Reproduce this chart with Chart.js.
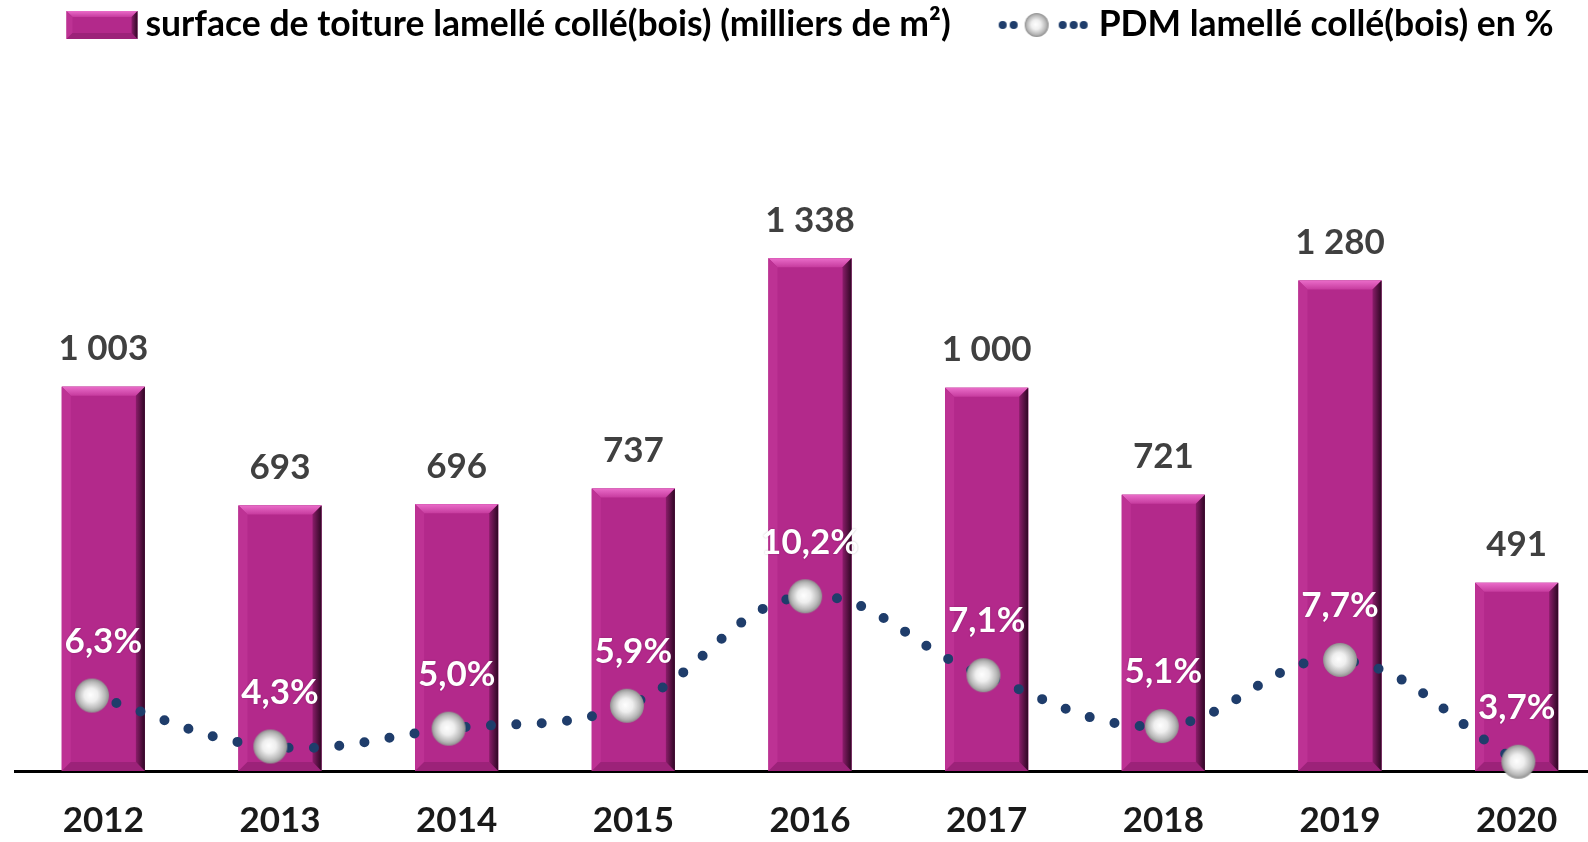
<!DOCTYPE html>
<html>
<head>
<meta charset="utf-8">
<script src="https://cdn.jsdelivr.net/npm/chart.js@4.4.1/dist/chart.umd.min.js"></script>
<style>
  html, body { margin: 0; padding: 0; background: #fff; overflow: hidden; }
  #roofChart { display: block; }
</style>
</head>
<body>
<canvas id="roofChart" width="1605" height="842"></canvas>
<script>
// data
const years = ['2012', '2013', '2014', '2015', '2016', '2017', '2018', '2019', '2020'];
const surface = [1003, 693, 696, 737, 1338, 1000, 721, 1280, 491];
const pdm = [6.3, 4.3, 5.0, 5.9, 10.2, 7.1, 5.1, 7.7, 3.7];
const surfaceLabel = 'surface de toiture lamellé collé(bois) (milliers de m²)';
const pdmLabel = 'PDM lamellé collé(bois) en %';

const FONT = 'Lato, "Open Sans", sans-serif';
Chart.defaults.font.family = FONT;

// bevelled magenta block, used for the bars and the legend box
function drawBevel(ctx, l, t, w, h, k) {
    const r = l + w, b = t + h;
    ctx.save();
    ctx.fillStyle = '#b3298b';
    ctx.fillRect(l, t, w, h);
    const poly = (pts, fill) => {
        ctx.beginPath();
        ctx.moveTo(pts[0][0], pts[0][1]);
        pts.slice(1).forEach(p => ctx.lineTo(p[0], p[1]));
        ctx.closePath();
        ctx.fillStyle = fill;
        ctx.fill();
    };
    let g = ctx.createLinearGradient(0, t, 0, t + k);
    g.addColorStop(0, '#ea6cc9');
    g.addColorStop(1, '#c63b9e');
    poly([[l, t], [r, t], [r - k, t + k], [l + k, t + k]], g);
    poly([[l, t], [l + k, t + k], [l + k, b - k], [l, b]], '#bd3294');
    poly([[l, b], [l + k, b - k], [r - k, b - k], [r, b]], '#9c2279');
    g = ctx.createLinearGradient(r - k, 0, r, 0);
    g.addColorStop(0, '#8a1d6a');
    g.addColorStop(1, '#2e0723');
    poly([[r, t], [r, b], [r - k, b - k], [r - k, t + k]], g);
    ctx.restore();
}

function makeSphere(rad) {
    const c = document.createElement('canvas');
    c.width = c.height = rad * 2 + 2;
    const x = c.getContext('2d');
    const m = rad + 1;
    const g = x.createRadialGradient(m - rad * 0.1, m - rad * 0.05, 0, m, m, rad);
    g.addColorStop(0, '#ffffff');
    g.addColorStop(0.4, '#efefef');
    g.addColorStop(0.8, '#b8b8b8');
    g.addColorStop(1, '#8f8f8f');
    x.beginPath();
    x.arc(m, m, rad, 0, Math.PI * 2);
    x.fillStyle = g;
    x.fill();
    return c;
}

const sphere = makeSphere(17);

function makeLineIcon() {
    const c = document.createElement('canvas');
    c.width = 92; c.height = 30;
    const x = c.getContext('2d');
    x.fillStyle = '#1f3d6b';
    [6, 17, 66, 77, 87].forEach(px => {
        x.beginPath();
        x.arc(px, 15, 4, 0, Math.PI * 2);
        x.fill();
    });
    x.drawImage(makeSphere(12), 40 - 13, 15 - 13);
    return c;
}
const lineIcon = makeLineIcon();

const bevelPlugin = {
    id: 'bevel',
    afterDatasetDraw(chart, args) {
        if (args.index !== 0) return;
        const ctx = chart.ctx;
        args.meta.data.forEach(bar => {
            const p = bar.getProps(['x', 'y', 'width', 'base'], true);
            drawBevel(ctx, p.x - p.width / 2, p.y, p.width, p.base - p.y, 9);
        });
    }
};

const labelPlugin = {
    id: 'valueLabels',
    afterDraw(chart) {
        const ctx = chart.ctx;
        const bars = chart.getDatasetMeta(0).data;
        const pts = chart.getDatasetMeta(1).data;
        ctx.save();
        ctx.textAlign = 'center';
        ctx.textBaseline = 'middle';
        ctx.font = 'bold 35px ' + FONT;
        ctx.fillStyle = '#404040';
        bars.forEach((bar, i) => {
            const txt = String(surface[i]).replace(/\B(?=(\d{3})+(?!\d))/g, ' ');
            ctx.fillText(txt, bar.x, bar.y - 38);
        });
        ctx.font = 'bold 35px ' + FONT;
        ctx.fillStyle = '#ffffff';
        ctx.shadowColor = 'rgba(0,0,0,0.25)';
        ctx.shadowBlur = 2;
        pts.forEach((pt, i) => {
            const txt = pdm[i].toFixed(1).replace('.', ',') + '%';
            ctx.fillText(txt, bars[i].x, pt.y - 54);
        });
        ctx.restore();
    }
};

const legendPlugin = {
    id: 'topLegend',
    afterDraw(chart) {
        const ctx = chart.ctx;
        ctx.save();
        ctx.font = 'bold 34px ' + FONT;
        // fit the first label to the width it has in the picture
        const size = 34 * 806 / ctx.measureText(surfaceLabel).width;
        ctx.font = 'bold ' + size.toFixed(1) + 'px ' + FONT;
        ctx.textBaseline = 'middle';
        ctx.fillStyle = '#000';
        const w1 = ctx.measureText(surfaceLabel).width;
        const w2 = ctx.measureText(pdmLabel).width;
        const total = 71 + 8 + w1 + 46 + 92 + 10 + w2;
        let x = 810 - total / 2;
        const cy = 25;
        drawBevel(ctx, x, cy - 14, 71, 28, 6);
        x += 79;
        ctx.fillText(surfaceLabel, x, cy);
        x += w1 + 46;
        ctx.drawImage(lineIcon, x, cy - 15);
        x += 102;
        ctx.fillText(pdmLabel, x, cy);
        ctx.restore();
    }
};

const ctx = document.getElementById('roofChart').getContext('2d');
new Chart(ctx, {
    data: {
        labels: years,
        datasets: [{
            type: 'bar',
            label: surfaceLabel,
            data: surface,
            backgroundColor: '#b3298b',
            barPercentage: 0.47,
            categoryPercentage: 1,
            grouped: false,
            xAxisID: 'x',
            yAxisID: 'y',
            order: 2
        }, {
            type: 'line',
            label: pdmLabel,
            data: pdm.map((v, i) => ({ x: i, y: v })),
            xAxisID: 'x2',
            yAxisID: 'y2',
            borderColor: '#1f3d6b',
            borderWidth: 10,
            borderDash: [0, 25.5],
            borderCapStyle: 'round',
            tension: 0.4,
            pointStyle: sphere,
            pointRadius: 17,
            clip: false,
            order: 1
        }]
    },
    options: {
        responsive: false,
        animation: false,
        // tick padding counts twice in the axis height, hence the negative bottom
        layout: { autoPadding: false, padding: { left: 15, right: 0, top: 100, bottom: -29 } },
        plugins: {
            legend: { display: false },
            tooltip: { enabled: false }
        },
        scales: {
            x: {
                grid: { display: false, drawTicks: false },
                border: { color: '#000', width: 3 },
                ticks: { font: { size: 35, weight: 'bold' }, color: '#1a1a1a', padding: 29 }
            },
            x2: { type: 'linear', display: false, min: -0.432, max: 8.486 },
            y: { display: false, min: 0, max: 1751 },
            y2: { display: false, min: 3.336, max: 29.70 }
        }
    },
    plugins: [bevelPlugin, labelPlugin, legendPlugin]
});
</script>
</body>
</html>
